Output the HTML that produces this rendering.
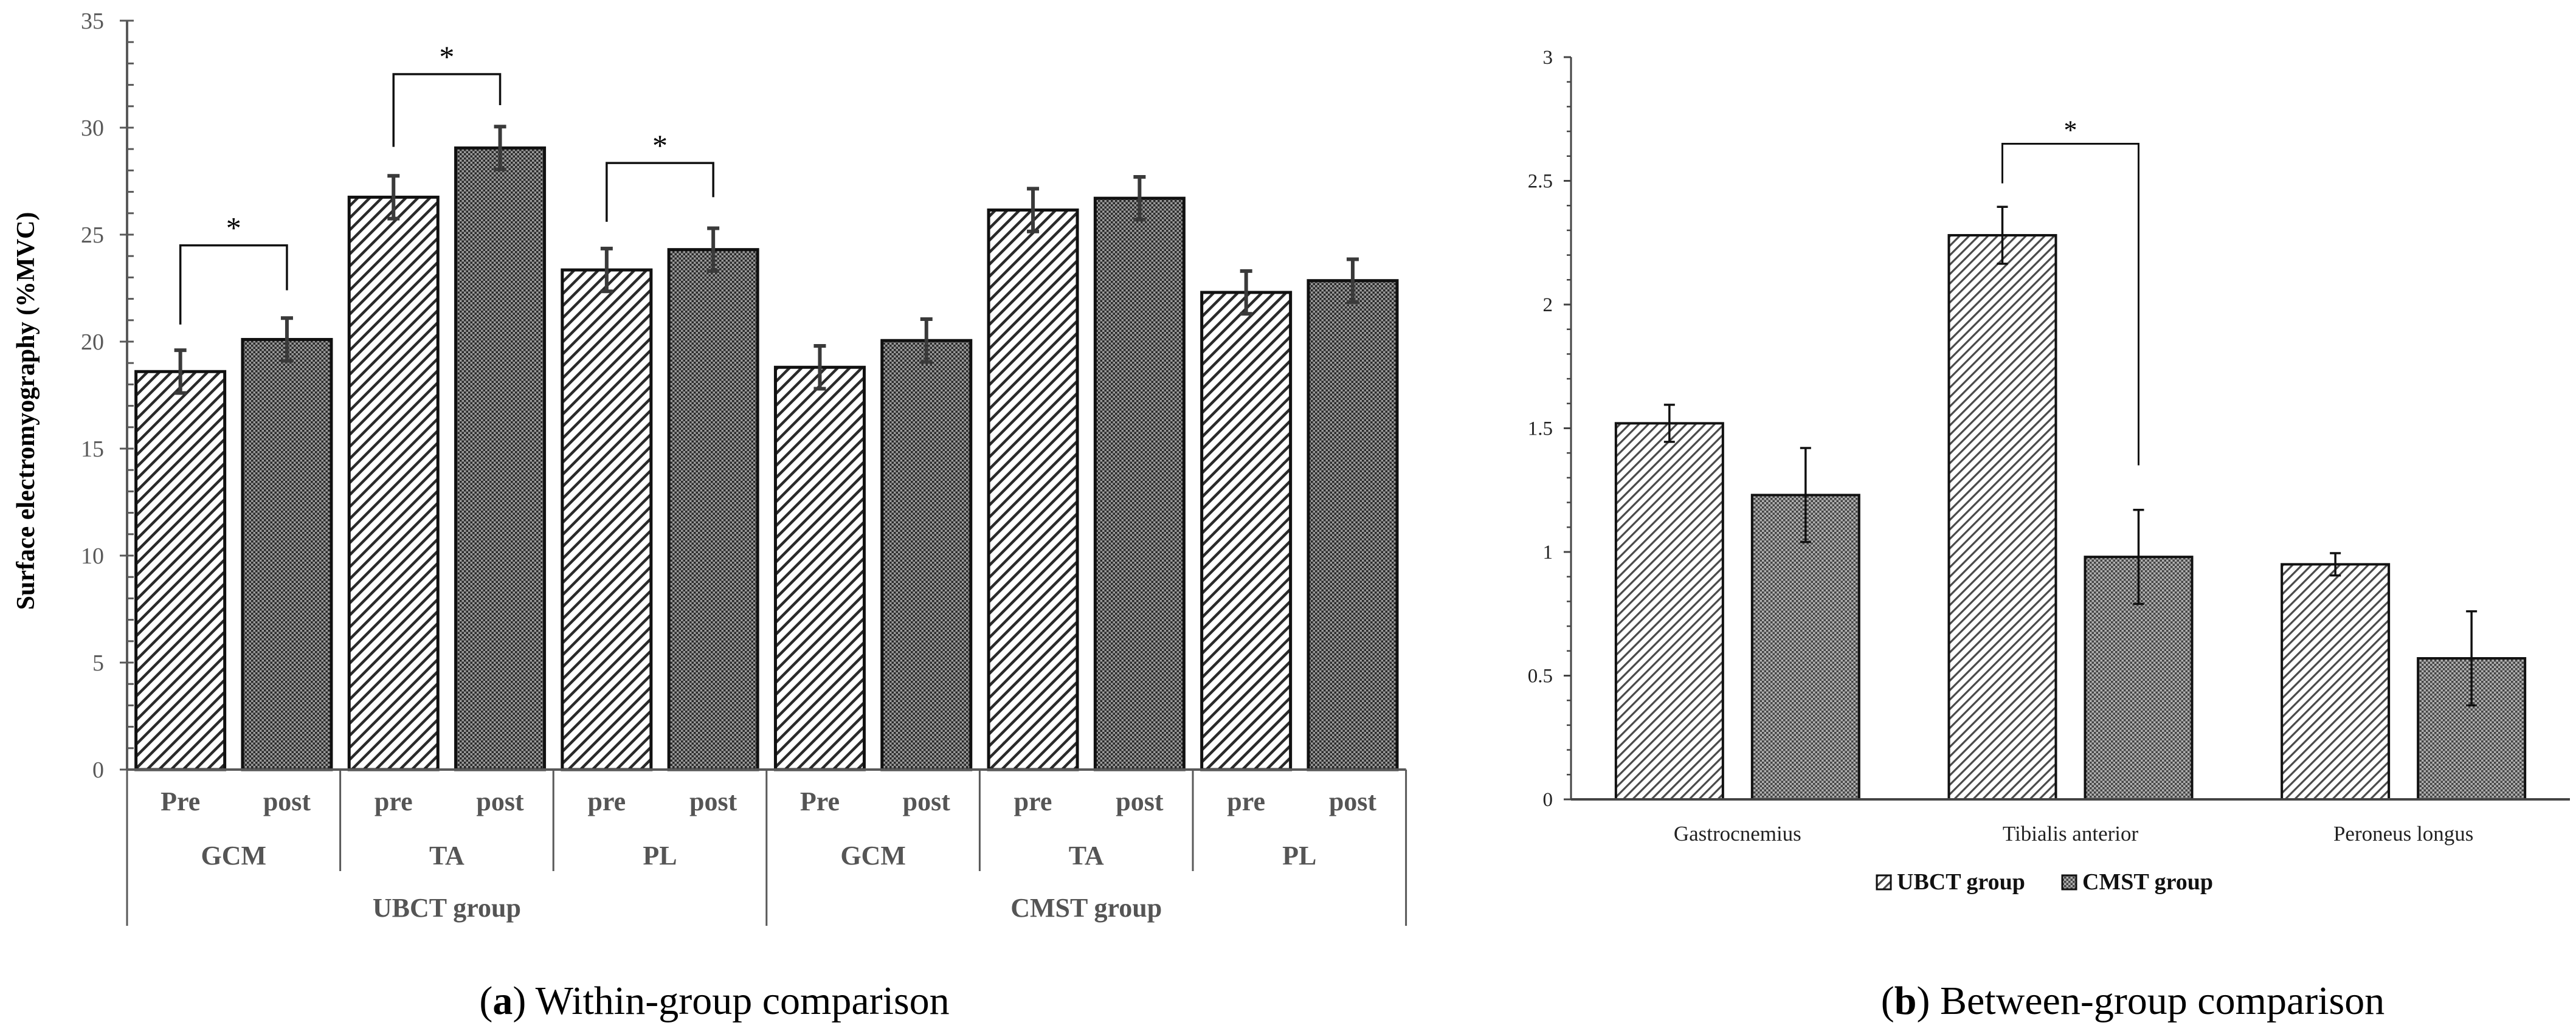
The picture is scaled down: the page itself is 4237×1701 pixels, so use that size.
<!DOCTYPE html>
<html><head><meta charset="utf-8">
<style>
html,body{margin:0;padding:0;background:#fff;}
svg{display:block;}
text{font-family:"Liberation Serif",serif;}
</style></head>
<body>
<svg id="fig" width="4237" height="1701" viewBox="0 0 4237 1701" xmlns="http://www.w3.org/2000/svg">
<defs>
<pattern id="hatch" patternUnits="userSpaceOnUse" width="14" height="14" patternTransform="rotate(45)">
<rect width="14" height="14" fill="#fff"/>
<rect x="0" y="0" width="4.5" height="14" fill="#2a2a2a"/>
</pattern>
<pattern id="hatchB" patternUnits="userSpaceOnUse" width="11" height="11" patternTransform="rotate(45)">
<rect width="11" height="11" fill="#fff"/>
<rect x="0" y="0" width="3.2" height="11" fill="#4a4a4a"/>
</pattern>
<pattern id="cross" patternUnits="userSpaceOnUse" width="7" height="7">
<rect width="7" height="7" fill="#9a9a9a"/>
<rect x="0" y="0" width="3.5" height="3.5" fill="#2a2a2a"/>
<rect x="3.5" y="3.5" width="3.5" height="3.5" fill="#2a2a2a"/>
</pattern>
<pattern id="crossB" patternUnits="userSpaceOnUse" width="7" height="7">
<rect width="7" height="7" fill="#b0b0b0"/>
<rect x="0" y="0" width="3.5" height="3.5" fill="#444"/>
<rect x="3.5" y="3.5" width="3.5" height="3.5" fill="#444"/>
</pattern>
</defs>
<g id="chartA"></g>
<g id="chartB"></g>
<text x="1175" y="1668" font-size="66" text-anchor="middle" fill="#000">(<tspan font-weight="bold">a</tspan>) Within-group comparison</text>
<text x="3508" y="1668" font-size="66" text-anchor="middle" fill="#000">(<tspan font-weight="bold">b</tspan>) Between-group comparison</text>
</svg>
<script>
// ---- Chart A data ----
const aGroups = ["UBCT group", "CMST group"];
const aMuscles = ["GCM", "TA", "PL", "GCM", "TA", "PL"];
const aPhaseLabels = [["Pre","post"],["pre","post"],["pre","post"],["Pre","post"],["pre","post"],["pre","post"]];
const aPre = [18.6, 26.75, 23.35, 18.8, 26.15, 22.3];
const aPost = [20.1, 29.05, 24.3, 20.05, 26.7, 22.85];
const aPreErr = [1.0, 1.0, 1.0, 1.0, 1.0, 1.0];
const aPostErr = [1.0, 1.0, 1.0, 1.0, 1.0, 1.0];
const aTicks = [0, 5, 10, 15, 20, 25, 30, 35];
const aBrMuscle = [0, 1, 2];
const aBrTop = [24.5, 32.5, 28.35];
const aBrLeft = [20.8, 29.1, 25.6];
const aBrRight = [22.4, 31.05, 26.75];

// ---- Chart B data ----
const bCats = ["Gastrocnemius", "Tibialis anterior", "Peroneus longus"];
const bSeries = ["UBCT group", "CMST group"];
const bUBCT = [1.52, 2.28, 0.95];
const bCMST = [1.23, 0.98, 0.57];
const bUBCTErr = [0.075, 0.115, 0.045];
const bCMSTErr = [0.19, 0.19, 0.19];
const bTicks = [0, 0.5, 1, 1.5, 2, 2.5, 3];
const bBrCat = [1];
const bBrTop = [2.65];
const bBrLeft = [2.49];
const bBrRight = [1.35];

const NS = "http://www.w3.org/2000/svg";
function mk(parent, tag, attrs, txt){
  const e = document.createElementNS(NS, tag);
  for (const k in attrs) e.setAttribute(k, attrs[k]);
  if (txt !== undefined) e.textContent = txt;
  parent.appendChild(e);
  return e;
}

// ===== Chart A =====
(function(){
  const g = document.getElementById("chartA");
  const x0 = 209, groupW = 350.6, y0 = 1266, yTop = 34, vMax = 35;
  const ya = v => y0 - (v / vMax) * (y0 - yTop);
  const slotX = (m, s) => x0 + m * groupW + (s + 0.5) * groupW / 2;
  const bw = 146;
  const t = mk(g, "text", {x: 0, y: 0, "font-size": 42, "font-weight": "bold", fill: "#000", "text-anchor": "middle", transform: "translate(56,676) rotate(-90)"}, "Surface electromyography (%MVC)");
  
  
  const ax = mk(g, "line", {x1: x0, y1: yTop, x2: x0, y2: y0, stroke: "#595959", "stroke-width": 4});
  
  
  for (let v = 0; v <= vMax; v++) {
    const yy = ya(v);
    const major = aTicks.includes(v);
    const tk = mk(g, "line", {x1: major ? x0 - 12 : x0, y1: yy, x2: x0 + 11, y2: yy, stroke: "#595959", "stroke-width": 3});
    
    
  }
  aTicks.forEach(v => {
    const tl = mk(g, "text", {x: x0 - 38, y: ya(v) + 13, "font-size": 38, fill: "#595959", "text-anchor": "end"}, String(v));
    
    
  });
  for (let m = 0; m < aMuscles.length; m++) {
    [[aPre, aPreErr, "url(#hatch)", "pre"], [aPost, aPostErr, "url(#cross)", "post"]].forEach((s, si) => {
      const v = s[0][m], e = s[1][m], cx = slotX(m, si);
      const r = mk(g, "rect", {x: cx - bw / 2, y: ya(v), width: bw, height: y0 - ya(v), fill: s[2], stroke: "#111", "stroke-width": 5});
      
      
      const eb = mk(g, "path", {d: `M${cx},${ya(v + e)}V${ya(v - e)}M${cx - 10},${ya(v + e)}H${cx + 10}M${cx - 10},${ya(v - e)}H${cx + 10}`, stroke: "#3a3a3a", "stroke-width": 6, fill: "none"});
      
      
      const pl = mk(g, "text", {x: cx, y: 1333, "font-size": 44, "font-weight": "bold", fill: "#555", "text-anchor": "middle"}, aPhaseLabels[m][si]);
      
      
    });
    const ml = mk(g, "text", {x: x0 + (m + 0.5) * groupW, y: 1422, "font-size": 44, "font-weight": "bold", fill: "#555", "text-anchor": "middle"}, aMuscles[m]);
    
    
  }
  const xa = mk(g, "line", {x1: x0, y1: y0, x2: x0 + 6 * groupW, y2: y0, stroke: "#595959", "stroke-width": 4});
  
  
  for (let i = 0; i <= 6; i++) {
    const long = i % 3 === 0;
    const sp = mk(g, "line", {x1: x0 + i * groupW, y1: y0, x2: x0 + i * groupW, y2: long ? 1523 : 1433, stroke: "#595959", "stroke-width": 3});
    
    
  }
  aGroups.forEach((gn, i) => {
    const gl = mk(g, "text", {x: x0 + (i * 3 + 1.5) * groupW, y: 1508, "font-size": 44, "font-weight": "bold", fill: "#555", "text-anchor": "middle"}, gn);
    
    
  });
  aBrMuscle.forEach((m, i) => {
    const xl = slotX(m, 0), xr = slotX(m, 1);
    const br = mk(g, "path", {d: `M${xl},${ya(aBrLeft[i])}V${ya(aBrTop[i])}H${xr}V${ya(aBrRight[i])}`, stroke: "#111", "stroke-width": 3.5, fill: "none"});
    
    
    const st = mk(g, "text", {x: (xl + xr) / 2, y: ya(aBrTop[i]) - 12, "font-size": 50, fill: "#000", "text-anchor": "middle"}, "*");
    
    
  });
})();

// ===== Chart B =====
(function(){
  const g = document.getElementById("chartB");
  const x0 = 2584, xEnd = 4227, y0 = 1315, yTop = 94, vMax = 3;
  const yb = v => y0 - (v / vMax) * (y0 - yTop);
  const catW = (xEnd - x0) / bCats.length;
  const bw = 176, gap = 48;
  const barX = (c, s) => x0 + (c + 0.5) * catW + (s === 0 ? -(gap / 2 + bw / 2) : (gap / 2 + bw / 2));
  const ax = mk(g, "line", {x1: x0, y1: yTop, x2: x0, y2: y0, stroke: "#444", "stroke-width": 3});
  
  
  for (let k = 0; k <= 30; k++) {
    const v = k / 10, yy = yb(v);
    const major = k % 5 === 0;
    const tk = mk(g, "line", {x1: x0 - (major ? 12 : 7), y1: yy, x2: x0, y2: yy, stroke: "#444", "stroke-width": major ? 3 : 2.5});
    
    
  }
  bTicks.forEach(v => {
    const tl = mk(g, "text", {x: x0 - 30, y: yb(v) + 11, "font-size": 33, fill: "#222", "text-anchor": "end"}, String(v));
    
    
  });
  bCats.forEach((c, ci) => {
    [[bUBCT, bUBCTErr, "url(#hatchB)", "ubct"], [bCMST, bCMSTErr, "url(#crossB)", "cmst"]].forEach((s, si) => {
      const v = s[0][ci], e = s[1][ci], cx = barX(ci, si);
      const r = mk(g, "rect", {x: cx - bw / 2, y: yb(v), width: bw, height: y0 - yb(v), fill: s[2], stroke: "#111", "stroke-width": 4});
      
      
      const eb = mk(g, "path", {d: `M${cx},${yb(v + e)}V${yb(v - e)}M${cx - 9},${yb(v + e)}H${cx + 9}M${cx - 9},${yb(v - e)}H${cx + 9}`, stroke: "#111", "stroke-width": 3.5, fill: "none"});
      
      
    });
    const cl = mk(g, "text", {x: x0 + (ci + 0.5) * catW, y: 1383, "font-size": 35, fill: "#222", "text-anchor": "middle"}, c);
    
    
  });
  const xa = mk(g, "line", {x1: x0, y1: y0, x2: xEnd, y2: y0, stroke: "#444", "stroke-width": 4});
  
  
  bBrCat.forEach((c, i) => {
    const xl = barX(c, 0), xr = barX(c, 1);
    const br = mk(g, "path", {d: `M${xl},${yb(bBrLeft[i])}V${yb(bBrTop[i])}H${xr}V${yb(bBrRight[i])}`, stroke: "#111", "stroke-width": 3, fill: "none"});
    
    
    const st = mk(g, "text", {x: (xl + xr) / 2, y: yb(bBrTop[i]) - 8, "font-size": 44, fill: "#000", "text-anchor": "middle"}, "*");
    
    
  });
  const lx = [3087, 3392];
  bSeries.forEach((s, i) => {
    const sw = mk(g, "rect", {x: lx[i], y: 1440, width: 23, height: 23, fill: i === 0 ? "url(#hatchB)" : "url(#crossB)", stroke: "#111", "stroke-width": 3});
    
    
    const lt = mk(g, "text", {x: lx[i] + 33, y: 1463, "font-size": 38, "font-weight": "bold", fill: "#111"}, s);
    
    
  });
})();
</script>
</body></html>
